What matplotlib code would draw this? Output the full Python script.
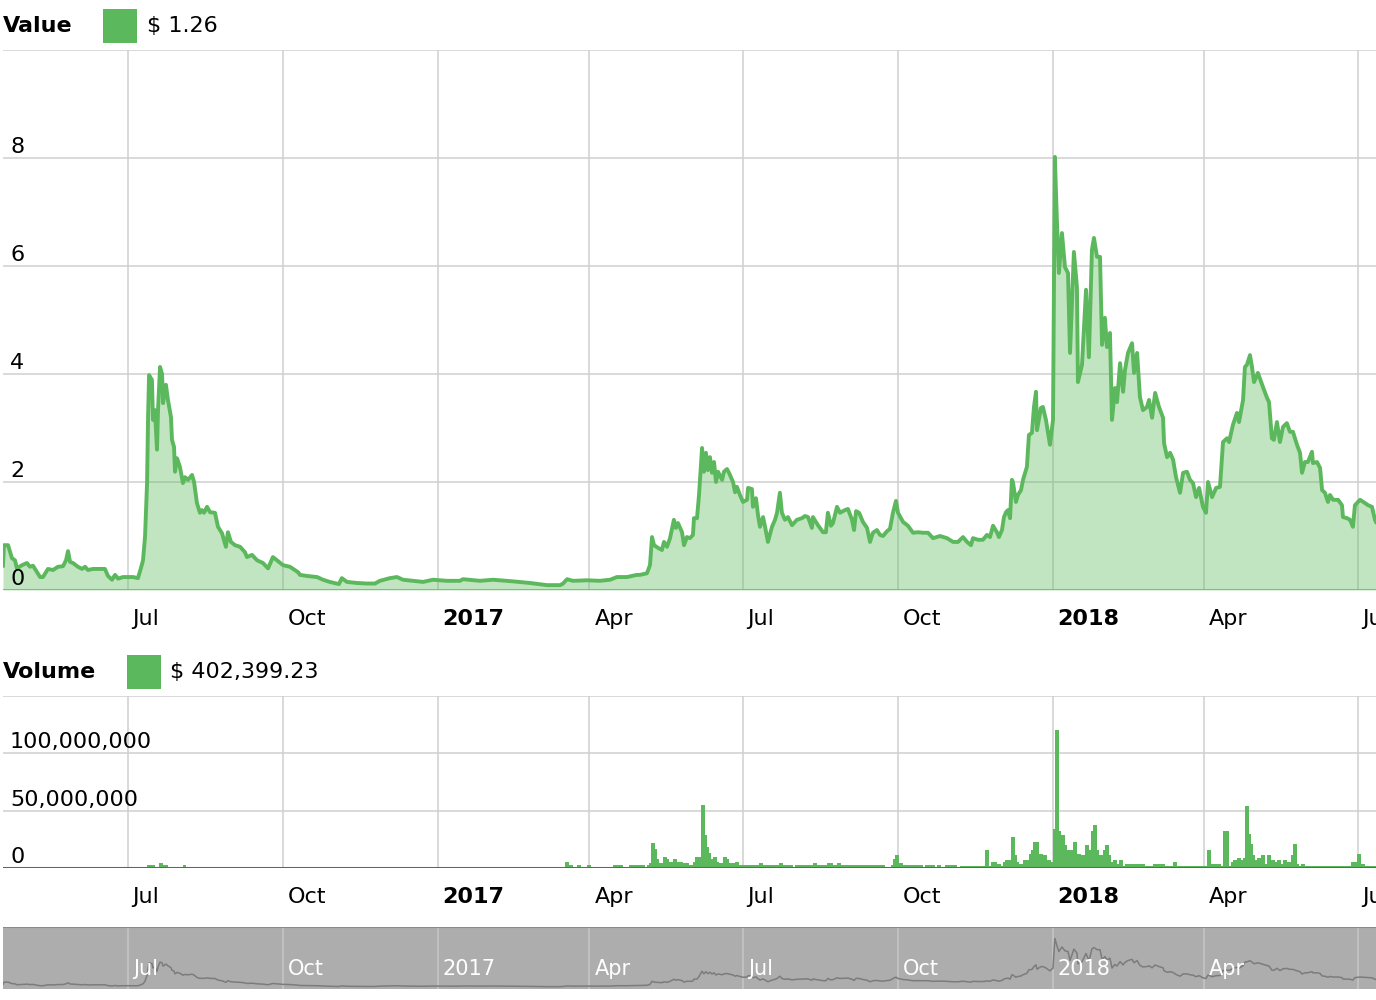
import datetime as dt

import matplotlib
matplotlib.use("Agg")
import matplotlib.pyplot as plt
import matplotlib.transforms as mtransforms
from matplotlib.patches import Rectangle

START = dt.date(2016, 4, 18)   # left edge of the plot
X_END = 814.9                  # days shown (to ~11 Jul 2018)

# --- value series: days since START, price in $ ---
value_day = [
    0, 0.6, 3.0, 5.3, 7.1, 8.3, 11.3, 14.2, 16.0, 17.8, 22.0, 23.7, 26.7, 29.7,
    32.6, 35.6, 37.4, 38.6, 39.8, 41.5, 44.5, 46.9, 48.7, 50.4, 53.4, 57.6, 60.5,
    62.3, 64.7, 66.5, 68.3, 71.2, 74.2, 77.2, 80.1, 81.9, 83.1, 84.3, 85.5, 86.1,
    86.7, 88.4, 89.0, 90.2, 91.4, 92.0, 93.2, 94.4, 95.0, 96.7, 97.9, 99.7, 100.3,
    101.5, 102.1, 103.3, 105.0, 106.8, 108.0, 109.8, 112.2, 113.4, 115.1, 116.9,
    118.1, 119.3, 121.1, 122.9, 125.8, 127.6, 130.0, 132.3, 133.5, 135.3, 137.7,
    140.7, 143.6, 144.8, 147.8, 150.8, 154.3, 157.3, 160.2, 162.6, 166.2, 170.3,
    175.1, 176.3, 180.4, 186.4, 189.9, 193.9, 199.4, 201.1, 204.1, 210.1, 216.0,
    220.8, 223.7, 229.7, 233.8, 237.4, 243.3, 249.3, 255.2, 263.5, 271.2, 273.0,
    283.1, 290.8, 302.7, 312.8, 322.9, 330.6, 332.4, 334.8, 338.3, 346.6, 354.3,
    360.3, 364.4, 370.3, 376.3, 378.1, 382.2, 384.0, 385.2, 386.4, 388.8, 391.1,
    392.3, 394.1, 395.9, 398.2, 399.4, 400.6, 403.0, 404.2, 405.9, 407.7, 409.5,
    410.1, 411.9, 413.1, 414.9, 416.0, 417.2, 418.4, 419.6, 420.8, 422.0, 423.2,
    424.4, 426.8, 427.9, 429.7, 430.9, 433.3, 434.5, 435.6, 437.4, 439.2, 441.6,
    442.2, 444.5, 445.1, 446.9, 448.1, 449.3, 451.1, 452.3, 454.0, 456.4, 458.2,
    459.4, 461.1, 462.3, 464.1, 465.9, 468.3, 471.2, 474.2, 476.0, 477.8, 480.1,
    480.7, 483.7, 486.7, 488.4, 489.6, 491.4, 492.6, 495.0, 496.8, 499.7, 501.5,
    503.9, 505.1, 506.3, 508.1, 510.4, 512.8, 514.6, 516.3, 518.7, 520.5, 522.3,
    524.7, 526.4, 528.2, 530.0, 531.2, 534.2, 537.1, 540.1, 543.1, 546.0, 549.0,
    552.0, 556.1, 560.3, 563.9, 566.8, 569.8, 572.2, 574.5, 575.7, 578.7, 581.6,
    584.0, 585.8, 587.6, 589.9, 591.1, 592.9, 594.1, 595.3, 596.5, 597.7, 598.8,
    599.4, 601.2, 602.4, 604.2, 605.4, 607.7, 608.9, 610.7, 611.9, 613.1, 613.7,
    616.0, 617.2, 619.0, 621.4, 623.2, 624.3, 625.5, 626.7, 628.5, 630.3, 632.1,
    633.3, 635.6, 637.4, 638.0, 640.4, 642.8, 644.5, 646.3, 647.5, 649.3, 651.1,
    652.3, 654.0, 655.2, 657.0, 658.2, 660.0, 661.2, 663.0, 664.8, 665.9, 667.7,
    670.1, 671.3, 673.1, 674.8, 676.6, 679.0, 680.2, 682.0, 683.8, 686.1, 688.5,
    689.1, 690.9, 692.7, 694.5, 696.2, 698.6, 700.4, 702.7, 704.5, 706.3, 708.1,
    709.9, 712.2, 714.0, 715.2, 717.6, 720.0, 722.3, 724.1, 726.5, 727.7, 730.0,
    732.4, 733.6, 736.0, 737.1, 738.3, 740.1, 741.3, 742.5, 744.8, 747.8, 750.2,
    751.4, 753.1, 754.3, 756.1, 757.9, 759.7, 762.0, 763.8, 765.6, 768.0, 769.8,
    771.0, 772.7, 774.5, 776.9, 777.5, 779.9, 781.7, 782.9, 784.6, 786.4, 787.6,
    789.4, 792.4, 794.7, 795.3, 797.7, 799.5, 801.2, 802.4, 805.4, 808.4, 810.2,
    812.5, 814.3, 814.9,
]
value_usd = [
    0.45, 0.83, 0.83, 0.59, 0.55, 0.40, 0.46, 0.50, 0.43, 0.45, 0.24, 0.24, 0.39, 0.37,
    0.43, 0.44, 0.55, 0.72, 0.52, 0.50, 0.43, 0.39, 0.43, 0.37, 0.39, 0.39, 0.39,
    0.26, 0.19, 0.28, 0.21, 0.24, 0.24, 0.24, 0.22, 0.41, 0.55, 0.99, 1.98, 3.20,
    3.98, 3.89, 3.15, 3.33, 2.60, 3.33, 4.13, 4.00, 3.46, 3.80, 3.52, 3.20, 2.78,
    2.65, 2.19, 2.44, 2.28, 1.98, 2.09, 2.04, 2.13, 2.00, 1.61, 1.43,
    1.48, 1.43, 1.54, 1.44, 1.43, 1.17, 1.05, 0.80, 1.07, 0.89, 0.83,
    0.80, 0.70, 0.61, 0.65, 0.55, 0.50, 0.40, 0.61, 0.55, 0.46, 0.43,
    0.33, 0.28, 0.26, 0.24, 0.19, 0.15, 0.11, 0.22, 0.15, 0.13, 0.12,
    0.12, 0.17, 0.22, 0.24, 0.19, 0.17, 0.15, 0.19, 0.17, 0.17, 0.20,
    0.17, 0.19, 0.16, 0.13, 0.09, 0.09, 0.12, 0.20, 0.17, 0.18, 0.17,
    0.19, 0.24, 0.24, 0.28, 0.28, 0.31, 0.46, 0.98, 0.83, 0.78, 0.74,
    0.89, 0.80, 0.96, 1.30, 1.15, 1.24, 1.07, 0.83, 0.98, 0.96, 1.02,
    1.33, 1.33, 1.76, 2.63, 2.19, 2.54, 2.22, 2.46, 2.17, 2.37, 2.00,
    2.19, 2.04, 2.19, 2.24, 2.17, 2.00, 1.81, 1.91, 1.76, 1.63, 1.67,
    1.89, 1.87, 1.54, 1.70, 1.39, 1.17, 1.35, 1.17, 0.89, 1.17, 1.30,
    1.43, 1.80, 1.43, 1.30, 1.35, 1.20, 1.30, 1.33, 1.37, 1.35, 1.15,
    1.35, 1.20, 1.07, 1.07, 1.43, 1.19, 1.24, 1.54, 1.43, 1.48, 1.50,
    1.30, 1.11, 1.46, 1.43, 1.26, 1.15, 0.89, 1.06, 1.11, 1.02, 1.00,
    1.09, 1.13, 1.43, 1.65, 1.43, 1.26, 1.19, 1.06, 1.07, 1.06, 1.06,
    0.96, 1.00, 0.96, 0.89, 0.89, 0.98, 0.89, 0.83, 0.96, 0.93, 0.93,
    1.02, 0.98, 1.19, 1.07, 0.98, 1.11, 1.35, 1.44, 1.48, 1.33, 2.04,
    2.00, 1.63, 1.76, 1.85, 2.04, 2.28, 2.87, 2.91, 3.39, 3.67, 2.96,
    3.37, 3.39, 3.15, 2.69, 3.15, 8.02, 6.85, 5.87, 6.61, 5.98, 5.87,
    4.39, 6.26, 5.61, 3.85, 4.17, 5.56, 4.31, 6.30, 6.52, 6.17, 6.17,
    4.54, 5.04, 4.50, 4.76, 3.15, 3.74, 3.48, 4.20, 3.67, 4.07, 4.39,
    4.57, 4.02, 4.39, 3.57, 3.33, 3.39, 3.52, 3.19, 3.65, 3.39, 3.19,
    2.72, 2.46, 2.54, 2.41, 2.09, 1.80, 2.17, 2.19, 2.04, 1.98, 1.72,
    1.89, 1.54, 1.43, 2.00, 1.72, 1.89, 1.91, 2.74, 2.81, 2.74, 3.06,
    3.28, 3.11, 3.52, 4.13, 4.17, 4.35, 4.13, 3.85, 4.02, 3.76, 3.56,
    3.48, 2.81, 2.78, 3.11, 2.74, 3.02, 3.09, 2.93, 2.93, 2.69, 2.54,
    2.17, 2.37, 2.37, 2.56, 2.35, 2.37, 2.26, 1.85, 1.80, 1.63, 1.76,
    1.67, 1.67, 1.57, 1.35, 1.33, 1.30, 1.17, 1.57, 1.67, 1.61, 1.57,
    1.54, 1.30, 1.26,
]

# --- volume bars: start day, end day, volume in millions of $ ---
vol_from = [
    85.5, 92.6, 95.0, 106.8,
    333.5, 335.9, 340.7, 346.6, 362.0, 371.5, 382.2, 383.4, 384.6, 387.0, 388.1,
    389.3, 391.7, 394.1, 395.3, 397.6, 400.0, 403.6, 407.1, 409.5, 410.7, 414.3,
    416.6, 417.8, 419.0, 420.2, 421.4, 423.8, 425.0, 427.3, 429.7, 430.9, 434.5,
    436.8, 448.7, 451.1, 460.5, 462.9, 470.1, 480.7, 483.1, 489.0, 492.6, 495.0,
    497.4, 527.0, 528.2, 529.4, 531.8, 534.2, 547.2, 554.3, 559.1,
    568.0, 582.8, 585.2, 586.4, 589.9, 592.3, 593.5, 594.7, 598.2, 600.6, 601.8,
    603.0, 605.4, 608.9, 610.1, 611.3, 614.9, 617.2, 619.6, 622.0, 623.2, 624.3,
    626.7, 627.9, 630.3, 631.5, 635.0, 637.4, 639.8, 642.2, 644.5, 645.7, 646.9,
    649.3, 650.5, 652.9, 654.0, 656.4, 657.6, 658.8, 661.2, 662.4, 664.8, 665.9,
    677.8, 682.6, 689.7, 694.5, 696.8, 714.6, 717.0, 722.9, 724.1, 727.7, 728.9,
    730.0, 732.4, 734.8, 736.0, 737.1, 739.5, 740.7, 741.9, 743.1, 744.3, 746.6,
    749.0, 750.2, 752.6, 755.0, 756.1, 758.5, 759.7, 762.0, 764.4, 765.6, 768.0,
    769.2, 770.4, 772.7, 800.0, 803.6, 806.0, 808.4,
]
vol_to = [
    90.2, 95.0, 97.9, 108.6,
    335.9, 338.3, 343.0, 349.0, 368.0, 381.0, 383.4, 384.6, 387.0, 388.1, 389.3,
    391.7, 394.1, 395.3, 397.6, 400.0, 403.6, 407.1, 409.5, 410.7, 414.3, 416.6,
    417.8, 419.0, 420.2, 421.4, 423.8, 425.0, 427.3, 429.7, 430.9, 434.5, 436.8,
    448.7, 451.1, 460.5, 462.9, 468.9, 480.7, 483.1, 489.0, 492.6, 495.0, 497.4,
    523.5, 528.2, 529.4, 531.8, 534.2, 546.0, 553.1, 556.7, 566.2,
    582.8, 585.2, 586.4, 589.9, 592.3, 593.5, 594.7, 598.2, 600.6, 601.8, 603.0,
    605.4, 608.9, 610.1, 611.3, 614.9, 617.2, 619.6, 622.0, 623.2, 624.3, 626.7,
    627.9, 630.3, 631.5, 635.0, 637.4, 639.8, 642.2, 644.5, 645.7, 646.9, 649.3,
    650.5, 652.9, 654.0, 656.4, 657.6, 658.8, 661.2, 662.4, 664.8, 665.9, 677.8,
    682.6, 689.7, 694.5, 696.8, 714.6, 717.0, 722.9, 724.1, 727.7, 728.9, 730.0,
    732.4, 734.8, 736.0, 737.1, 739.5, 740.7, 741.9, 743.1, 744.3, 746.6, 749.0,
    750.2, 752.6, 755.0, 756.1, 758.5, 759.7, 762.0, 764.4, 765.6, 768.0, 769.2,
    770.4, 772.7, 800.0, 803.6, 806.0, 808.4, 814.9,
]
vol_musd = [
    2.5, 4, 2.5, 2.5,
    5, 2.5, 2.5, 2.5, 2.5, 2.5, 2.5, 4, 22, 17, 8,
    4, 10, 8, 5, 8, 5, 4, 2.5, 5, 10, 55,
    29, 18, 13, 8, 10, 5, 4, 10, 8, 4, 5,
    2.5, 4, 2.5, 4, 2.5, 2.5, 4, 2.5, 4, 2.5, 4,
    2.5, 2.5, 8, 11, 4, 2.5, 2.5, 2.5, 2.5,
    2, 16, 2, 5, 3.5, 2, 5, 7, 27, 11, 5,
    3.5, 7, 12.5, 16, 23, 12.5, 11, 7, 5, 34, 120,
    32, 29, 20, 16, 23, 12.5, 11, 20, 16, 32, 37.5,
    16, 11, 16, 20, 11, 5, 7, 3.5, 7, 2, 3.5,
    2, 3.5, 2, 5, 2, 16, 3.5, 2, 32, 2, 5,
    7, 9, 7, 9, 54, 30, 21, 11, 7, 9, 11,
    3.5, 11, 7, 5, 7, 3.5, 7, 5, 11, 21, 3.5,
    2, 3.5, 2, 5, 12.5, 3.5, 2,
]

tick_dates = [dt.date(2016, 7, 1), dt.date(2016, 10, 1), dt.date(2017, 1, 1),
              dt.date(2017, 4, 1), dt.date(2017, 7, 1), dt.date(2017, 10, 1),
              dt.date(2018, 1, 1), dt.date(2018, 4, 1), dt.date(2018, 7, 1)]
tick_labels = ["Jul", "Oct", "2017", "Apr", "Jul", "Oct", "2018", "Apr", "Jul"]
value_ticks = [0, 2, 4, 6, 8, 10]
value_tick_labels = ["0", "2", "4", "6", "8", ""]
volume_ticks = [0, 50, 100, 150]
volume_tick_labels = ["0", "50,000,000", "100,000,000", ""]

GREEN = "#5cb85c"
GRID = "#d0d0d0"
FS = 16

plt.rcParams["font.family"] = ["DejaVu Sans"]
fig = plt.figure(figsize=(13.76, 10), dpi=100)
W, H = 1376.0, 1000.0

tick_days = [(d - START).days for d in tick_dates]


def px_axes(left, top, right, bottom):
    return fig.add_axes([left / W, 1 - bottom / H, (right - left) / W, (bottom - top) / H])


def base_style(ax, yticks, ymax):
    ax.set_xlim(0, X_END)
    ax.set_ylim(0, ymax)
    ax.set_xticks(tick_days)
    ax.set_yticks(yticks)
    ax.tick_params(length=0, labelbottom=False, labelleft=False)
    for s in ax.spines.values():
        s.set_visible(False)
    ax.grid(True, color=GRID, lw=1.1)
    ax.set_axisbelow(True)


def x_labels(ax, dy, color="black", bold_years=True, count=None, fs=FS):
    tr = mtransforms.offset_copy(ax.get_xaxis_transform(), fig=fig, x=5, y=dy, units="dots")
    for d, lab in list(zip(tick_days, tick_labels))[:count]:
        bold = bold_years and lab.isdigit()
        ax.text(d, 0, lab, transform=tr, ha="left", va="baseline", fontsize=fs,
                fontweight="bold" if bold else "normal", color=color, clip_on=False)


def y_labels(ax, ticks, labels):
    tr = mtransforms.offset_copy(ax.get_yaxis_transform(), fig=fig, x=7, y=5, units="dots")
    for v, lab in zip(ticks, labels):
        ax.text(0, v, lab, transform=tr, ha="left", va="baseline", fontsize=FS)


def header(y_px, title, patch_x, text_x, text):
    fig.text(3 / W, 1 - y_px / H, title, fontsize=FS, fontweight="bold", va="center")
    fig.add_artist(Rectangle((patch_x / W, 1 - (y_px + 17) / H), 34 / W, 34 / H,
                             transform=fig.transFigure, color=GREEN, lw=0))
    fig.text(text_x / W, 1 - y_px / H, text, fontsize=FS, va="center")


# --- value panel ---
ax = px_axes(3, 50, W, 590)
base_style(ax, value_ticks, 10)
ax.fill_between(value_day, value_usd, color=GREEN, alpha=0.38, lw=0)
ax.plot(value_day, value_usd, color=GREEN, lw=2.8, solid_joinstyle="round")
ax.axhline(0, color="#9a9a9a", lw=1.8)
y_labels(ax, value_ticks, value_tick_labels)
x_labels(ax, -35)
header(26, "Value", 103, 147, "$ 1.26")

# --- volume panel ---
axv = px_axes(3, 696, W, 868)
base_style(axv, volume_ticks, 150)
widths = [b - a for a, b in zip(vol_from, vol_to)]
axv.bar(vol_from, vol_musd, width=widths, align="edge", color=GREEN, lw=0)
axv.axhline(0, color="#3e7e3e", lw=2.2)
y_labels(axv, volume_ticks, volume_tick_labels)
x_labels(axv, -35)
header(672, "Volume", 127, 170, "$ 402,399.23")

# --- navigator ---
axn = px_axes(3, 927, W, 989)
axn.set_xlim(0, X_END)
axn.set_ylim(-0.3, 9.9)
axn.set_facecolor("#adadad")
axn.set_xticks(tick_days)
axn.set_yticks([])
axn.tick_params(length=0, labelbottom=False)
axn.grid(True, axis="x", color="#c6c6c6", lw=1.1)
for s in axn.spines.values():
    s.set_visible(False)
axn.axhline(9.9, color="#8a8a8a", lw=1.5)
axn.plot(value_day, value_usd, color="#7c7c7c", lw=1.1)
x_labels(axn, 14, color="white", bold_years=False, count=-1, fs=15)

fig.savefig("out.png", dpi=100)
